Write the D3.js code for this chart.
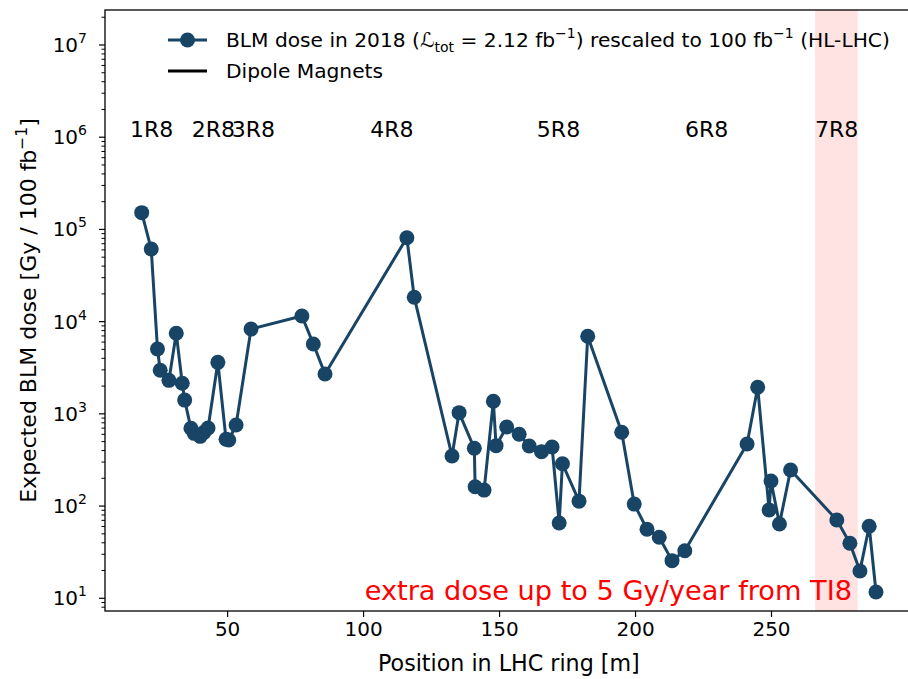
<!DOCTYPE html>
<html>
<head>
<meta charset="utf-8">
<script src="https://cdn.jsdelivr.net/npm/d3@7"></script>
<style>
  html, body { margin: 0; padding: 0; background: #fff; }
  svg { display: block; font-family: "DejaVu Sans", sans-serif; }
</style>
</head>
<body>
<svg id="chart" width="908" height="679"></svg>
<script>
// BLM positions along the ring [m] and expected dose [Gy / 100 fb^-1]
const positions = [18.6, 22.1, 24.4, 25.4, 28.6, 31.3, 33.5, 34.4, 36.7, 37.9,
  40.1, 41.5, 43.0, 46.6, 49.6, 50.6, 53.3, 58.8, 77.5, 81.7,
  86.0, 116.1, 118.8, 132.7, 135.3, 140.9, 141.2, 144.5, 147.9, 148.9,
  152.8, 157.4, 161.1, 165.6, 169.5, 172.1, 173.3, 179.4, 182.6, 195.1,
  199.7, 204.4, 208.9, 213.6, 218.3, 241.2, 245.1, 249.3, 250.0, 253.1,
  257.2, 274.2, 279.0, 282.7, 286.1, 288.6];
const doses = [152000, 61300, 5050, 2970, 2310, 7480, 2150, 1410, 697, 615,
  570, 630, 703, 3620, 530, 521, 757, 8320, 11500, 5730,
  2710, 81300, 18400, 349, 1030, 423, 162, 149, 1370, 452,
  721, 600, 448, 389, 437, 65.6, 288, 113, 6940, 631,
  105, 56, 45.9, 25.6, 32.8, 471, 1940, 90.7, 187, 64,
  246, 70.6, 39.5, 19.8, 60.4, 11.7];

// Half-cell labels (start position) and the TI8 region
const cellNames = ["1R8", "2R8", "3R8", "4R8", "5R8", "6R8", "7R8"];
const cellStarts = [14.3, 37.0, 51.7, 102.6, 163.9, 218.4, 266.2];
const ti8Region = [266.2, 281.9];

const xTicks = [50, 100, 150, 200, 250];
const yTicks = [1e1, 1e2, 1e3, 1e4, 1e5, 1e6, 1e7];

const blue = "#184566";
const svg = d3.select("#chart");

const x = d3.scaleLinear().domain([5.1, 302.1]).range([105, 912.7]);
const y = d3.scaleLog().domain([7.28, 2.396e7]).range([611, 10]);

const [x0, x1] = x.range();
const [yb, yt] = y.range();

// TI8 shaded band
svg.append("rect")
  .attr("x", x(ti8Region[0])).attr("y", yt)
  .attr("width", x(ti8Region[1]) - x(ti8Region[0]))
  .attr("height", yb - yt)
  .attr("fill", "rgba(255,0,0,0.11)");

// x axis
const xAxis = svg.append("g").attr("transform", `translate(0,${yb})`)
  .call(d3.axisBottom(x).tickValues(xTicks).tickSize(6).tickPadding(5).tickFormat(d3.format("d")));
xAxis.select(".domain").remove();
xAxis.selectAll("line").attr("stroke", "#000").attr("stroke-width", 1.2);
xAxis.selectAll("text").attr("font-size", 20).attr("fill", "#000")
  .attr("font-family", "DejaVu Sans");

// y axis: major ticks with power-of-ten labels, minor ticks 2..9
const minor = [];
for (let e = 0; e <= 7; e++) for (let m = 2; m <= 9; m++) {
  const v = m * Math.pow(10, e);
  if (v >= y.domain()[0] && v <= y.domain()[1]) minor.push(v);
}
const yAxisG = svg.append("g");
yAxisG.selectAll("line.minor").data(minor).join("line")
  .attr("x1", x0 - 3.5).attr("x2", x0)
  .attr("y1", d => y(d)).attr("y2", d => y(d))
  .attr("stroke", "#000").attr("stroke-width", 1);
yAxisG.selectAll("line.major").data(yTicks).join("line")
  .attr("x1", x0 - 6).attr("x2", x0)
  .attr("y1", d => y(d)).attr("y2", d => y(d))
  .attr("stroke", "#000").attr("stroke-width", 1.2);
const yLab = yAxisG.selectAll("text").data(yTicks).join("text")
  .attr("x", x0 - 18).attr("y", d => y(d) + 7)
  .attr("text-anchor", "end").attr("font-size", 20).attr("fill", "#000");
yLab.append("tspan").text("10");
yLab.append("tspan").attr("dy", -9).attr("font-size", 14)
  .text(d => Math.round(Math.log10(d)));

// frame
svg.append("rect").attr("x", x0).attr("y", yt)
  .attr("width", x1 - x0).attr("height", yb - yt)
  .attr("fill", "none").attr("stroke", "#000").attr("stroke-width", 1.3);

// axis titles
svg.append("text").attr("x", (x0 + x1) / 2).attr("y", 671)
  .attr("text-anchor", "middle").attr("font-size", 22.2).text("Position in LHC ring [m]");
const yt2 = svg.append("text")
  .attr("transform", `translate(36,${(yb + yt) / 2}) rotate(-90)`)
  .attr("text-anchor", "middle").attr("font-size", 22);
yt2.append("tspan").text("Expected BLM dose [Gy / 100 fb");
yt2.append("tspan").attr("dy", -9).attr("font-size", 15.5).text("\u22121");
yt2.append("tspan").attr("dy", 9).text("]");

// half-cell labels
svg.selectAll("text.cell").data(cellNames).join("text")
  .attr("class", "cell")
  .attr("x", (d, i) => x(cellStarts[i])).attr("y", y(1e6))
  .attr("font-size", 22).attr("fill", "#000").text(d => d);

// dose line and markers
const line = d3.line().x((d, i) => x(positions[i])).y(d => y(d));
svg.append("path").datum(doses).attr("d", line)
  .attr("fill", "none").attr("stroke", blue).attr("stroke-width", 3)
  .attr("stroke-linejoin", "round");
svg.selectAll("circle.pt").data(doses).join("circle")
  .attr("class", "pt")
  .attr("cx", (d, i) => x(positions[i])).attr("cy", d => y(d))
  .attr("r", 7.5).attr("fill", blue);

// annotation
svg.append("text").attr("x", 852).attr("y", 600)
  .attr("text-anchor", "end").attr("font-size", 27.2).attr("fill", "red")
  .text("extra dose up to 5 Gy/year from TI8");

// legend
const lg = svg.append("g");
lg.append("line").attr("x1", 168).attr("x2", 207).attr("y1", 40).attr("y2", 40)
  .attr("stroke", blue).attr("stroke-width", 3);
lg.append("circle").attr("cx", 187.5).attr("cy", 40).attr("r", 7.5).attr("fill", blue);
const l1 = lg.append("text").attr("x", 226).attr("y", 47).attr("font-size", 20.2);
l1.append("tspan").text("BLM dose in 2018 (");
l1.append("tspan").attr("font-style", "italic").text("\u2112");
l1.append("tspan").attr("dy", 5).attr("font-size", 14).text("tot");
l1.append("tspan").attr("dy", -5).text(" = 2.12 fb");
l1.append("tspan").attr("dy", -9).attr("font-size", 14).text("\u22121");
l1.append("tspan").attr("dy", 9).text(") rescaled to 100 fb");
l1.append("tspan").attr("dy", -9).attr("font-size", 14).text("\u22121");
l1.append("tspan").attr("dy", 9).text(" (HL-LHC)");
lg.append("line").attr("x1", 168).attr("x2", 207).attr("y1", 71).attr("y2", 71)
  .attr("stroke", "#000").attr("stroke-width", 3);
lg.append("text").attr("x", 226).attr("y", 78).attr("font-size", 20.2).text("Dipole Magnets");
</script>
</body>
</html>
